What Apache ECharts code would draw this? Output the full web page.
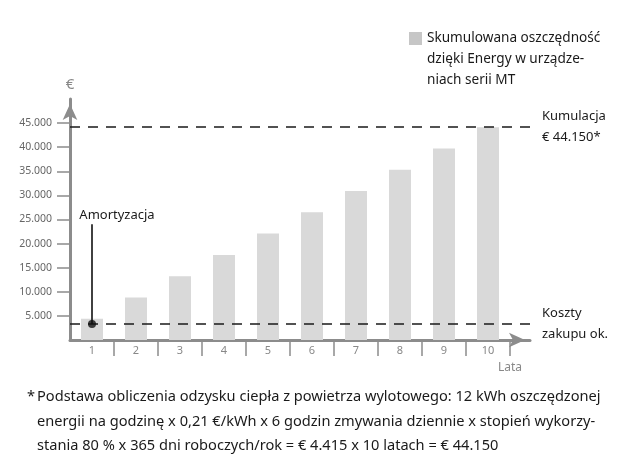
<!DOCTYPE html>
<html><head><meta charset="utf-8">
<script src="https://cdn.jsdelivr.net/npm/echarts@6/dist/echarts.min.js"></script>
<style>html,body{margin:0;padding:0;background:#fff}#c{width:626px;height:475px}</style>
</head><body><div id="c"></div>
<script>
const years = ['1','2','3','4','5','6','7','8','9','10'];
const savings = [4415, 8830, 13245, 17660, 22075, 26490, 30905, 35320, 39735, 44150];
const seriesName = 'Skumulowana oszczędność\ndzięki Energy w urządze-\nniach serii MT';
const cumulativeValue = 44150;
const cumulativeLabel = 'Kumulacja\n€ 44.150*';
const purchaseCost = 3300;
const purchaseLabel = 'Koszty\nzakupu ok.';
const amortYear = '1';
const amortLabel = 'Amortyzacja';
const amortLabelValue = 24000;
const yMin = 0, yMax = 50000, yInterval = 5000;
const yTickValues = [5000, 10000, 15000, 20000, 25000, 30000, 35000, 40000, 45000];
const yUnit = '€';
const xName = 'Lata';
const footnoteMark = '*';
const footnote = 'Podstawa obliczenia odzysku ciepła z powietrza wylotowego: 12 kWh oszczędzonej\nenergii na godzinę x 0,21 €/kWh x 6 godzin zmywania dziennie x stopień wykorzy-\nstania 80 % x 365 dni roboczych/rok = € 4.415 x 10 latach = € 44.150';

const FONT = 'Noto Sans';
const AXIS = '#8c8c8c';
const TEXT = '#1a1a1a';
const chart = echarts.init(document.getElementById('c'));
const fmtThousands = v => (v / 1000) + '.000';

chart.setOption({
  animation: false,
  textStyle: { fontFamily: FONT },
  grid: [
    { left: 70, right: 116, top: 99, bottom: 135 },
    { left: 70, right: 96, top: 99, bottom: 135 }
  ],
  legend: {
    left: 409, top: -14, padding: 0,
    itemWidth: 13, itemHeight: 13, icon: 'rect',
    data: [{ name: seriesName, itemStyle: { color: '#c6c6c6' } }],
    formatter: name => '\n\n' + name,
    textStyle: { fontFamily: FONT, fontSize: 13.6, color: TEXT, lineHeight: 21 }
  },
  xAxis: [
    {
      type: 'category', gridIndex: 0, data: years, boundaryGap: true,
      name: xName, nameLocation: 'end', nameGap: 0,
      nameTextStyle: { fontFamily: FONT, fontSize: 12, color: '#888', align: 'center', verticalAlign: 'top', padding: [22, 0, 0, 0] },
      axisLine: { show: false },
      axisTick: { show: true, length: 16, lineStyle: { color: AXIS, width: 1.5 }, interval: (i) => i > 0 },
      axisLabel: { margin: 5, fontSize: 11, color: '#888', fontFamily: FONT, interval: 0 },
      splitLine: { show: false }
    },
    {
      type: 'value', gridIndex: 1, min: 0, max: 1,
      axisLine: { show: true, symbol: ['none', 'arrow'], symbolSize: [11, 16], symbolOffset: [0, -5], lineStyle: { color: AXIS, width: 3 } },
      axisTick: { show: false }, axisLabel: { show: false }, splitLine: { show: false }
    }
  ],
  yAxis: [
    {
      type: 'value', gridIndex: 0, min: yMin, max: yMax, interval: yInterval,
      name: yUnit, nameLocation: 'end', nameGap: 7,
      nameTextStyle: { fontFamily: FONT, fontSize: 15, color: '#888' },
      axisLine: { show: true, symbol: ['none', 'arrow'], symbolSize: [11, 16], symbolOffset: [0, -5], lineStyle: { color: AXIS, width: 3 } },
      axisTick: { show: true, length: 13, customValues: yTickValues, lineStyle: { color: AXIS, width: 1.5 } },
      axisLabel: { margin: 18, fontSize: 10.5, color: '#666', fontFamily: FONT, customValues: yTickValues, formatter: fmtThousands },
      splitLine: { show: false }
    },
    {
      type: 'value', gridIndex: 1, min: yMin, max: yMax, interval: yInterval, show: false
    }
  ],
  series: [
    {
      name: seriesName, type: 'bar', xAxisIndex: 0, yAxisIndex: 0,
      data: savings, barWidth: '50%', itemStyle: { color: '#d9d9d9' }, z: 1
    },
    {
      name: 'refs', type: 'line', xAxisIndex: 1, yAxisIndex: 1, data: [], z: 5,
      markLine: {
        silent: true, symbol: ['none', 'none'], animation: false,
        lineStyle: { color: TEXT, type: [10, 8], width: 1.6 },
        label: { position: 'end', distance: 12, fontFamily: FONT, fontSize: 13, color: TEXT, lineHeight: 21, align: 'left', padding: [0, 0, 8, 0] },
        data: [
          { yAxis: cumulativeValue, label: { formatter: cumulativeLabel } },
          { yAxis: purchaseCost, label: { formatter: purchaseLabel } }
        ]
      }
    },
    {
      name: 'amort', type: 'scatter', xAxisIndex: 0, yAxisIndex: 0, z: 6,
      data: [[amortYear, purchaseCost]], symbolSize: 8, itemStyle: { color: '#111' },
      markLine: {
        silent: true, symbol: ['none', 'none'], animation: false,
        lineStyle: { color: '#111', type: 'solid', width: 1.6 },
        label: { position: 'end', distance: 3, fontFamily: FONT, fontSize: 13, color: TEXT, align: 'center', padding: [0, 0, 0, 50], formatter: amortLabel },
        data: [[{ coord: [amortYear, purchaseCost] }, { coord: [amortYear, amortLabelValue] }]]
      }
    }
  ],
  graphic: [
    { type: 'text', left: 27, top: 385, style: { text: footnoteMark, font: '14.6px "Noto Sans"', lineHeight: 24.5, fill: TEXT } },
    { type: 'text', left: 37, top: 385, style: { text: footnote, font: '14.6px "Noto Sans"', lineHeight: 24.5, fill: TEXT } }
  ]
});
</script></body></html>
